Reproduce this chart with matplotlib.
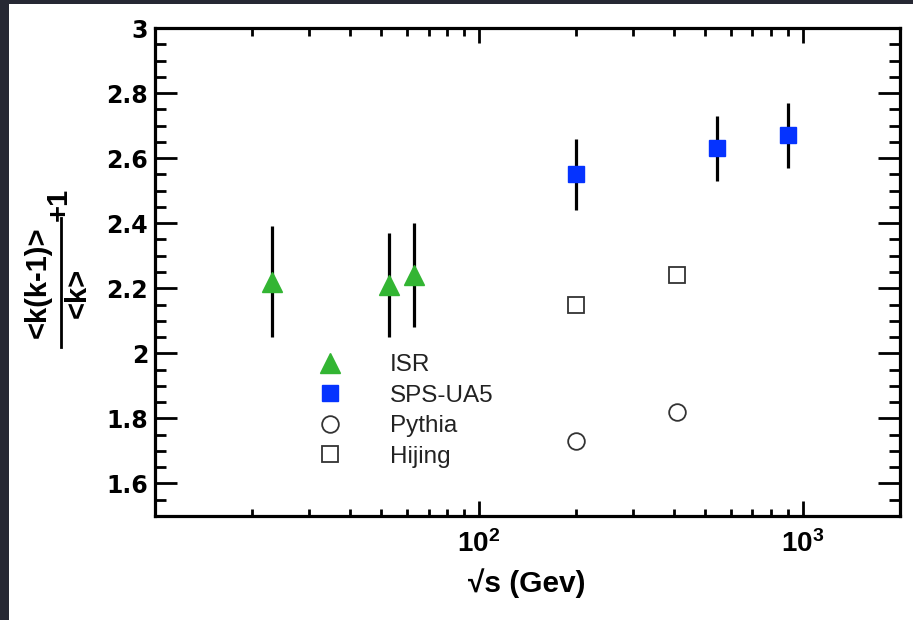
import numpy as np
import matplotlib
matplotlib.use("Agg")
import matplotlib.pyplot as plt
from matplotlib.lines import Line2D
from matplotlib.patches import Rectangle
from matplotlib.ticker import LogLocator, NullFormatter, MultipleLocator, FuncFormatter

plt.rcParams['font.family'] = ['Liberation Sans', 'DejaVu Sans']
plt.rcParams['mathtext.fontset'] = 'custom'
plt.rcParams['mathtext.rm'] = 'Liberation Sans'
plt.rcParams['mathtext.bf'] = 'Liberation Sans:bold'

# data
isr_x = [23, 53, 63]
isr_y = [2.22, 2.21, 2.24]
isr_err = [0.17, 0.16, 0.16]

ua5_x = [200, 546, 900]
ua5_y = [2.55, 2.63, 2.67]
ua5_err = [0.11, 0.10, 0.10]

pythia_x = [200, 410]
pythia_y = [1.73, 1.82]

hijing_x = [200, 410]
hijing_y = [2.15, 2.24]

x_major = [100, 1000]
x_major_labels = [r'$\mathbf{10^{2}}$', r'$\mathbf{10^{3}}$']

GREEN = '#33b533'
BLUE = '#0533ff'
W, H = 913, 620


def fx(px):
    return px / W


def fy(py):
    return 1 - py / H


fig = plt.figure(figsize=(W / 100, H / 100), dpi=100)
fig.patch.set_facecolor('#262833')
fig.add_artist(Rectangle((fx(9), 0), 1, fy(4), transform=fig.transFigure,
                         facecolor='white', edgecolor='none', zorder=-10))

ax = fig.add_axes([fx(155), fy(516), fx(900) - fx(155), fy(28) - fy(516)])
ax.set_facecolor('white')

ebar = dict(fmt='none', ecolor='black', elinewidth=2.3, capsize=0, zorder=2)
ax.errorbar(isr_x, isr_y, yerr=isr_err, **ebar)
ax.errorbar(ua5_x, ua5_y, yerr=ua5_err, **ebar)

ax.plot(isr_x, isr_y, '^', ls='none', ms=14, color=GREEN, mec=GREEN, label='ISR', zorder=3)
ax.plot(ua5_x, ua5_y, 's', ls='none', ms=11, color=BLUE, mec=BLUE, label='SPS-UA5', zorder=3)
ax.plot(pythia_x, pythia_y, 'o', ls='none', ms=12, mfc='white', mec='#333333', mew=1.3,
        label='Pythia', zorder=3)
ax.plot(hijing_x, hijing_y, 's', ls='none', ms=11.5, mfc='white', mec='#333333', mew=1.3,
        label='Hijing', zorder=3)

ax.set_xscale('log')
ax.set_xlim(10, 2000)
ax.set_ylim(1.5, 3.0)

ax.set_xticks(x_major)
ax.set_xticklabels(x_major_labels)
ax.xaxis.set_minor_locator(LogLocator(base=10, subs=np.arange(2, 10)))
ax.xaxis.set_minor_formatter(NullFormatter())
ax.yaxis.set_major_locator(MultipleLocator(0.2))
ax.yaxis.set_minor_locator(MultipleLocator(0.05))
ax.yaxis.set_major_formatter(FuncFormatter(lambda v, p: '%g' % round(v, 2)))

for s in ax.spines.values():
    s.set_linewidth(2.3)
ax.tick_params(which='both', direction='in', top=True, right=True, width=2, colors='black')
ax.tick_params(axis='y', which='major', length=15.8, pad=5, labelsize=17)
ax.tick_params(axis='y', which='minor', length=7.9)
ax.tick_params(axis='x', which='major', length=11, pad=10, labelsize=20)
ax.tick_params(axis='x', which='minor', length=5.4)
for lab in ax.get_yticklabels():
    lab.set_fontweight('bold')
    lab.set_family('DejaVu Sans')

leg = ax.legend(loc='upper left', bbox_to_anchor=(fx(306), fy(354)),
                bbox_transform=fig.transFigure, frameon=False, borderpad=0,
                borderaxespad=0, handlelength=2.0, handletextpad=1.45,
                labelspacing=0.35, fontsize=17.5)
for t in leg.get_texts():
    t.set_color('#222222')

# y axis title: fraction drawn by hand
fig.text(fx(38), fy(282), '<k(k-1)>', rotation=90, ha='center', va='center',
         fontsize=21, fontweight='bold')
fig.text(fx(78), fy(293), '<k>', rotation=90, ha='center', va='center',
         fontsize=21, fontweight='bold')
fig.add_artist(Line2D([fx(61), fx(61)], [fy(218), fy(347)], transform=fig.transFigure,
                      color='black', lw=2))
fig.text(fx(59), fy(204), '+1', rotation=90, ha='center', va='center',
         fontsize=21, fontweight='bold')

fig.text(fx(527), fy(583), '√s (Gev)', ha='center', va='center',
         fontsize=21.5, fontweight='bold')

fig.savefig('out.png', dpi=100, facecolor=fig.get_facecolor())
